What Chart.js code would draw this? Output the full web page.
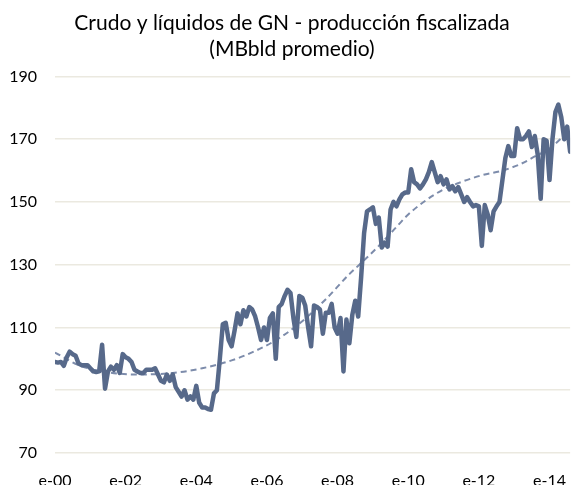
<!DOCTYPE html>
<html>
<head>
<meta charset="utf-8">
<script src="https://cdn.jsdelivr.net/npm/chart.js@4/dist/chart.umd.min.js"></script>
<style>
  html, body { margin: 0; padding: 0; background: #fff; }
  #wrap { width: 576px; height: 485px; position: relative; }
</style>
</head>
<body>
<div id="wrap"><canvas id="prodChart"></canvas></div>
<script>
// Producción mensual (MBbld), ene-2000 .. ago-2014, un valor por mes
const produccion = [
    99, 98.8, 99, 97.8, 100.5, 102.3, 101.5, 101, 98.5, 98, 98, 98,
    97, 96, 95.8, 96, 104.5, 90.5, 96, 97.5, 96.5, 98, 95.5, 101.5,
    100.5, 100, 99, 96.5, 96, 95.5, 95.5, 96.5, 96.5, 96.5, 97, 95,
    93, 92.5, 95, 93, 95, 91, 89.5, 88, 90, 87, 88, 87,
    91.4, 86, 84.5, 84.5, 84, 83.8, 89, 90, 100, 111, 111.5, 106,
    104, 109, 114.5, 111, 115.5, 113.5, 116.5, 115.7, 113.5, 110, 106, 110,
    106, 113, 114.5, 100, 116.5, 117.5, 120, 122, 121, 113, 107, 120,
    119.5, 117, 110, 104, 117, 116.5, 115.7, 108, 114.7, 114.7, 117.5, 110,
    108, 113, 96, 112.5, 105, 114, 118.5, 113.5, 126, 140, 147, 147.6,
    148.3, 143, 145, 135.5, 137, 135.8, 147.6, 150, 148.6, 150.8, 152.4, 153,
    153, 160.4, 156.3, 155.6, 154.3, 155.6, 157.2, 159.5, 162.7, 159.5, 156.3, 158.2,
    155.6, 157.2, 154, 155, 153.4, 154.7, 152.4, 150, 151.5, 150, 148.6, 149,
    148.6, 136, 149, 146, 141, 147, 148.6, 150, 157, 164, 167.8, 164.6,
    164.6, 173.5, 170, 170, 171, 172.5, 167.5, 171, 165, 151, 170, 169.5,
    157, 170, 178.6, 181, 177, 170, 174, 166
];

const tendenciaMes = [0, 8, 16, 28, 40, 50, 60, 68, 76, 84, 92, 100, 104, 110, 115, 120, 126, 132, 137, 145, 152, 158, 163, 168, 175];
const tendenciaValor = [102, 98, 96, 95, 95.5, 97, 99.5, 102.5, 106.5, 112, 119, 127, 130.5, 136, 141, 146, 150.5, 154, 156, 158.5, 160, 162, 164.5, 167, 173];

const etiquetasX = ['e-00', 'e-02', 'e-04', 'e-06', 'e-08', 'e-10', 'e-12', 'e-14'];
const ticksY = [70, 90, 110, 130, 150, 170, 190];

const FONT = 'Lato, "Open Sans", sans-serif';

const serie = produccion.map((v, i) => ({ x: i, y: v }));
const tendencia = tendenciaMes.map((m, i) => ({ x: m, y: tendenciaValor[i] }));

const ctx = document.getElementById('prodChart').getContext('2d');
const chart = new Chart(ctx, {
    type: 'line',
    data: {
        datasets: [
            {
                label: 'Producción',
                data: serie,
                borderColor: '#57698a',
                borderWidth: 4.5,
                pointRadius: 0,
                tension: 0,
                borderJoinStyle: 'round',
                borderCapStyle: 'round'
            },
            {
                label: 'Tendencia',
                data: tendencia,
                borderColor: '#7d8cab',
                borderWidth: 2,
                borderDash: [6, 4],
                pointRadius: 0,
                cubicInterpolationMode: 'monotone'
            }
        ]
    },
    options: {
        responsive: true,
        maintainAspectRatio: false,
        animation: false,
        layout: { padding: { left: 8, right: 0, top: 0, bottom: 0 } },
        plugins: {
            legend: { display: false },
            tooltip: { enabled: false },
            title: {
                display: true,
                text: ['Crudo y líquidos de GN - producción fiscalizada', '(MBbld promedio)'],
                color: '#000',
                font: { family: FONT, size: 21, weight: 'normal', lineHeight: 1.2 },
                padding: { top: 11, bottom: 15 }
            }
        },
        scales: {
            x: {
                type: 'linear',
                min: 0,
                max: produccion.length - 1,
                grid: { display: false },
                border: { display: false },
                afterFit: s => { s.height = 32; },
                afterBuildTicks: s => {
                    s.ticks = etiquetasX.map((t, i) => ({ value: i * 24 }));
                },
                ticks: {
                    autoSkip: false,
                    maxRotation: 0,
                    padding: 10,
                    color: '#000',
                    font: { family: FONT, size: 16 },
                    callback: v => etiquetasX[Math.round(v / 24)]
                }
            },
            y: {
                min: ticksY[0],
                max: ticksY[ticksY.length - 1],
                grid: { color: '#ebe9e0', lineWidth: 1.5, drawTicks: false },
                border: { display: false },
                afterFit: s => { s.width = 47; },
                ticks: {
                    stepSize: 20,
                    padding: 18,
                    color: '#000',
                    font: { family: FONT, size: 16 }
                }
            }
        }
    }
});
</script>
</body>
</html>
